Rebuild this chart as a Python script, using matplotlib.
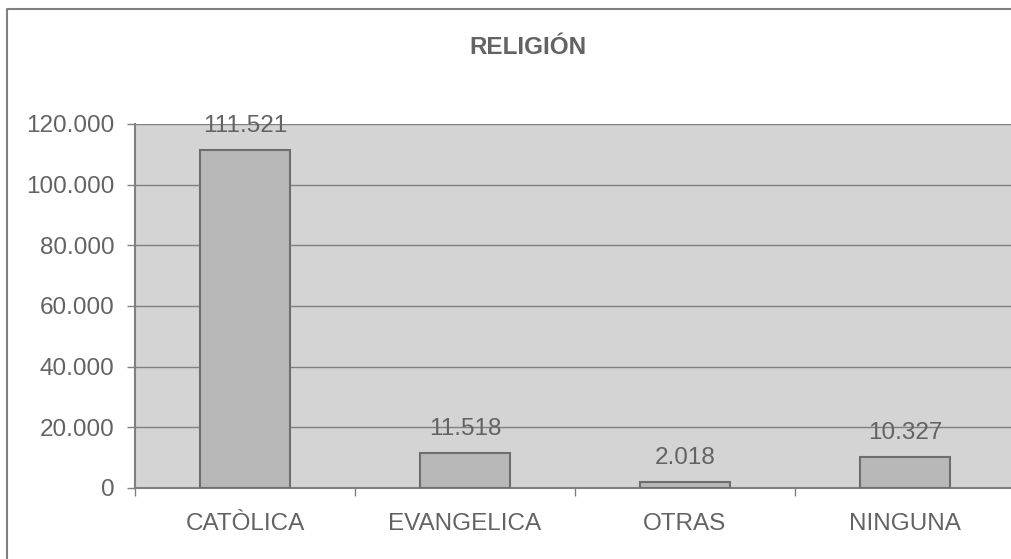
import matplotlib.pyplot as plt
from matplotlib.lines import Line2D
from matplotlib.ticker import FuncFormatter, FixedLocator

# data
categorias = ["CATÒLICA", "EVANGELICA", "OTRAS", "NINGUNA"]
valores = [111521, 11518, 2018, 10327]
titulo = "RELIGIÓN"

gris_texto = "#636363"
gris_linea = "#808080"

plt.rcParams['font.family'] = ['Liberation Sans', 'DejaVu Sans']

fig = plt.figure(figsize=(10.12, 5.59), dpi=100)
W, H = 1012, 559

# outer chart frame (only left and top edges are visible in the crop)
fig.add_artist(Line2D([7 / W, 7 / W, 1011.5 / W], [1 / H, 1 - 9 / H, 1 - 9 / H],
                      transform=fig.transFigure, color=gris_linea,
                      linewidth=1.5, clip_on=False))

ax = fig.add_axes([135 / W, 1 - 488 / H, 880 / W, 364 / H])
ax.set_facecolor("#d4d4d4")

x = list(range(len(categorias)))
ax.bar(x, valores, width=0.405, color="#b8b8b8", edgecolor="#6e6e6e",
       linewidth=1.5, zorder=3)

def fmt(v, pos=None):
    return f"{v:,.0f}".replace(",", ".")

for xi, v in zip(x, valores):
    ax.annotate(fmt(v), (xi, v), xytext=(0, 13), textcoords="offset points",
                ha="center", va="baseline", fontsize=17.5, color=gris_texto,
                zorder=4)

ax.set_xlim(-0.5, 3.5)
ax.set_ylim(0, 120000)
ax.set_yticks(range(0, 120001, 20000))
ax.yaxis.set_major_formatter(FuncFormatter(fmt))
ax.grid(axis="y", color=gris_linea, linewidth=1, zorder=0)
ax.set_axisbelow(True)

ax.set_xticks(x)
ax.set_xticklabels(categorias)
ax.xaxis.set_minor_locator(FixedLocator([-0.5, 0.5, 1.5, 2.5, 3.5]))
ax.tick_params(axis="x", which="major", length=0, pad=18,
               labelsize=17.5, labelcolor=gris_texto)
ax.tick_params(axis="x", which="minor", length=6, width=1, color=gris_linea)
ax.tick_params(axis="y", length=6, width=1, color=gris_linea, pad=9,
               labelsize=17.5, labelcolor=gris_texto)

for s in ["top", "right"]:
    ax.spines[s].set_visible(False)
for s in ["left", "bottom"]:
    ax.spines[s].set_color(gris_linea)
    ax.spines[s].set_linewidth(1.5)

fig.text(528 / W, 1 - 48 / H, titulo, ha="center", va="center",
         fontsize=17.5, fontweight="bold", color=gris_texto)

fig.savefig("out.png", dpi=100)
